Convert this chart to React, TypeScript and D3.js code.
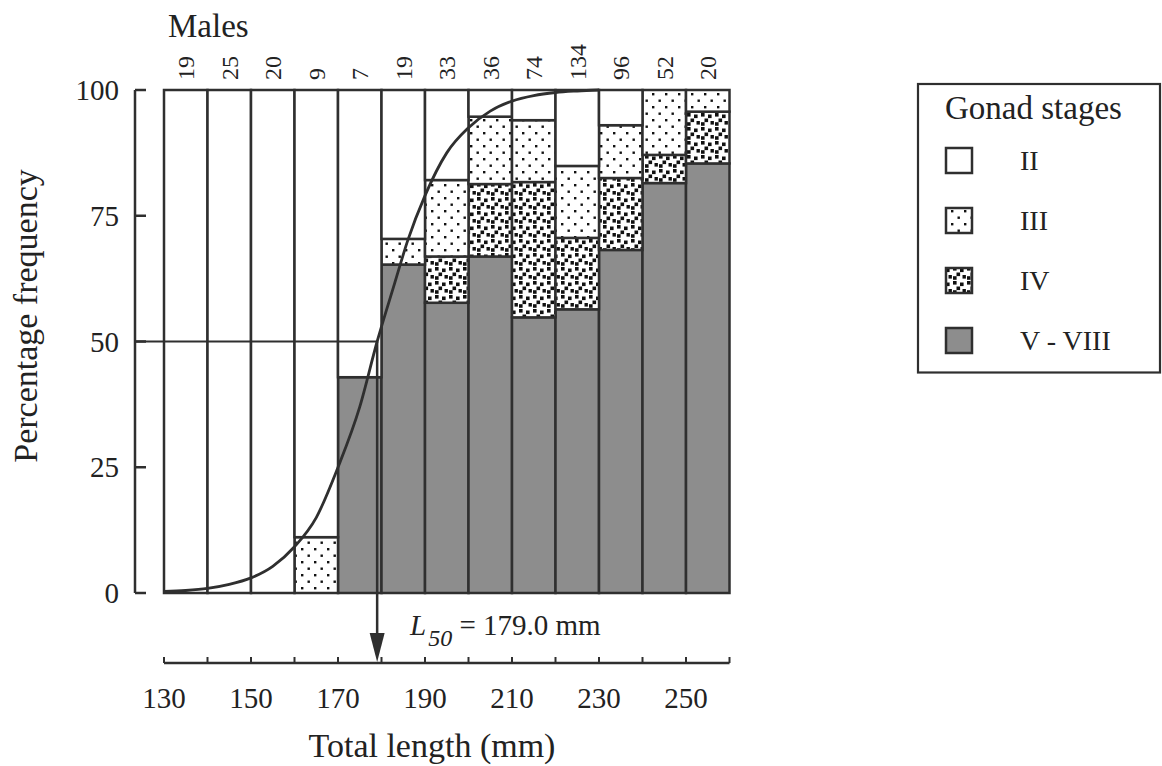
import React from 'react';
import * as d3 from 'd3';

// Length classes (lower bound of each 10 mm class) and number of males per class
const lengthClasses = [130, 140, 150, 160, 170, 180, 190, 200, 210, 220, 230, 240, 250];
const sampleSizes = [19, 25, 20, 9, 7, 19, 33, 36, 74, 134, 96, 52, 20];

// Percentage of each gonad stage per length class
const stageVtoVIII = [0, 0, 0, 0, 42.9, 65.3, 57.7, 66.9, 54.8, 56.4, 68.2, 81.5, 85.4];
const stageIV = [0, 0, 0, 0, 0, 0, 9.2, 14.4, 26.9, 14.2, 14.3, 5.6, 10.3];
const stageIII = [0, 0, 0, 11.1, 0, 5.1, 15.2, 13.4, 12.3, 14.3, 10.5, 12.9, 4.3];
const stageII = [100, 100, 100, 88.9, 57.1, 29.6, 17.9, 5.3, 6.0, 15.1, 7.0, 0, 0];

// Fitted maturity ogive (total length mm, percent mature)
const curveLength = [130, 135, 140, 145, 150, 155, 160, 165, 170, 175, 179, 183, 186, 190, 195, 200, 205, 210, 215, 220, 225, 230];
const curvePercent = [0.3, 0.5, 0.9, 1.7, 3.0, 5.3, 9.2, 15.0, 25.0, 37.0, 50.0, 61.5, 70.0, 79.0, 87.5, 92.5, 95.8, 97.8, 98.9, 99.5, 99.8, 100];

const L50 = 179.0;
const yTicks = [0, 25, 50, 75, 100];
const xTickLabels = [130, 150, 170, 190, 210, 230, 250];
const xTickMarks = [130, 140, 150, 160, 170, 180, 190, 200, 210, 220, 230, 240, 250, 260];

const stageKeys = ['V', 'IV', 'III', 'II'];
const legendItems = [
  { key: 'II', label: 'II' },
  { key: 'III', label: 'III' },
  { key: 'IV', label: 'IV' },
  { key: 'V', label: 'V - VIII' },
];

const INK = '#2f2f2f';
const TEXT = '#222';
const FONT = "'Liberation Serif', Tinos, 'Times New Roman', Times, 'DejaVu Serif', serif";

const fillFor: Record<string, string> = {
  II: '#ffffff',
  III: 'url(#pat-dots)',
  IV: 'url(#pat-squares)',
  V: '#8d8d8d',
};

export default function App() {
  const x = d3.scaleLinear().domain([130, 260]).range([164, 729.5]);
  const y = d3.scaleLinear().domain([0, 100]).range([593, 90]);

  const rows = lengthClasses.map((L, i) => ({
    L,
    V: stageVtoVIII[i],
    IV: stageIV[i],
    III: stageIII[i],
    II: stageII[i],
  }));
  const stacked = d3.stack<any>().keys(stageKeys)(rows);

  const line = d3
    .line<number>()
    .x((_, i) => x(curveLength[i]))
    .y((d) => y(d))
    .curve(d3.curveMonotoneX);

  const axisY = 663;
  const xL50 = x(L50);
  const txt = { fontFamily: FONT };

  return (
    <svg
      width={1162}
      height={766}
      style={{ position: 'absolute', left: 0, top: 0, background: '#fff', fontFamily: FONT }}
    >
      <defs>
        <pattern id="pat-dots" width={13} height={13} patternUnits="userSpaceOnUse">
          <rect width={13} height={13} fill="#fff" />
          <rect x={2} y={2} width={2.4} height={2.4} fill="#111" />
          <rect x={8.5} y={8.5} width={2.4} height={2.4} fill="#111" />
        </pattern>
        <pattern id="pat-squares" width={14} height={14} patternUnits="userSpaceOnUse">
          <rect width={14} height={14} fill="#fff" />
          <rect x={1} y={1} width={3.6} height={3.6} fill="#111" />
          <rect x={8} y={2.5} width={3.6} height={3.6} fill="#111" />
          <rect x={4.5} y={6.5} width={3.6} height={3.6} fill="#111" />
          <rect x={10.5} y={9} width={3.4} height={3.6} fill="#111" />
          <rect x={1} y={10.2} width={3.6} height={3.6} fill="#111" />
        </pattern>
      </defs>

      {/* Title */}
      <text x={168} y={37} fontSize={33} fill={TEXT} style={txt}>
        Males
      </text>

      {/* Sample sizes above each class */}
      {lengthClasses.map((L, i) => {
        const cx = (x(L) + x(L + 10)) / 2;
        return (
          <text
            key={`n-${L}`}
            transform={`translate(${cx},80) rotate(-90)`}
            dy="0.35em"
            fontSize={24}
            fill={TEXT}
            style={txt}
          >
            {sampleSizes[i]}
          </text>
        );
      })}

      {/* Stacked stage bars */}
      {stacked.map((series) => (
        <g key={series.key}>
          {series.map((d, i) => {
            if (d[1] - d[0] < 0.01) return null;
            const L = lengthClasses[i];
            return (
              <rect
                key={`${series.key}-${L}`}
                x={x(L)}
                width={x(L + 10) - x(L)}
                y={y(d[1])}
                height={y(d[0]) - y(d[1])}
                fill={fillFor[series.key as string]}
                stroke={INK}
                strokeWidth={2.5}
              />
            );
          })}
        </g>
      ))}

      {/* Y axis */}
      <line x1={135} x2={135} y1={y(0)} y2={y(100)} stroke={INK} strokeWidth={2.5} />
      {yTicks.map((t) => (
        <g key={`yt-${t}`}>
          <line x1={135} x2={146} y1={y(t)} y2={y(t)} stroke={INK} strokeWidth={2.5} />
          <text x={119} y={y(t)} dy="0.35em" textAnchor="end" fontSize={29} fill={TEXT} style={txt}>
            {t}
          </text>
        </g>
      ))}
      <text
        transform={`translate(37,316) rotate(-90)`}
        textAnchor="middle"
        fontSize={34}
        fill={TEXT}
        style={txt}
      >
        Percentage frequency
      </text>

      {/* 50 % reference line to the ogive */}
      <line x1={135} x2={xL50} y1={y(50)} y2={y(50)} stroke={INK} strokeWidth={2.2} />

      {/* Maturity ogive */}
      <path d={line(curvePercent) || ''} fill="none" stroke={INK} strokeWidth={2.8} />

      {/* L50 arrow */}
      <line x1={xL50} x2={xL50} y1={y(50)} y2={axisY - 20} stroke={INK} strokeWidth={2.5} />
      <path
        d={`M${xL50 - 7.5},${axisY - 30} L${xL50 + 7.5},${axisY - 30} L${xL50},${axisY - 1} Z`}
        fill={INK}
      />
      <text x={410} y={635} fontSize={29} fill={TEXT} style={txt}>
        <tspan fontStyle="italic">L</tspan>
        <tspan fontStyle="italic" fontSize={24} dx={2} dy={11}>
          50
        </tspan>
        <tspan dy={-11}> = {L50.toFixed(1)} mm</tspan>
      </text>

      {/* X axis */}
      <line x1={x(130)} x2={x(260)} y1={axisY} y2={axisY} stroke={INK} strokeWidth={2.5} />
      {xTickMarks.map((t) => (
        <line key={`xt-${t}`} x1={x(t)} x2={x(t)} y1={axisY} y2={axisY - 6} stroke={INK} strokeWidth={2} />
      ))}
      {xTickLabels.map((t) => (
        <text key={`xl-${t}`} x={x(t)} y={708} textAnchor="middle" fontSize={29} fill={TEXT} style={txt}>
          {t}
        </text>
      ))}
      <text x={432} y={757} textAnchor="middle" fontSize={34} fill={TEXT} style={txt}>
        Total length (mm)
      </text>

      {/* Legend */}
      <rect x={918} y={84} width={242} height={288.5} fill="#fff" stroke={INK} strokeWidth={2.2} />
      <text x={945} y={119} fontSize={33} fill={TEXT} style={txt}>
        Gonad stages
      </text>
      {legendItems.map((item, i) => {
        const cy = 160.5 + i * 60;
        return (
          <g key={`lg-${item.key}`}>
            <rect
              x={946}
              y={cy - 12.5}
              width={26}
              height={25}
              fill={fillFor[item.key]}
              stroke={INK}
              strokeWidth={2.5}
            />
            <text x={1020} y={cy} dy="0.35em" fontSize={28} fill={TEXT} style={txt}>
              {item.label}
            </text>
          </g>
        );
      })}
    </svg>
  );
}
